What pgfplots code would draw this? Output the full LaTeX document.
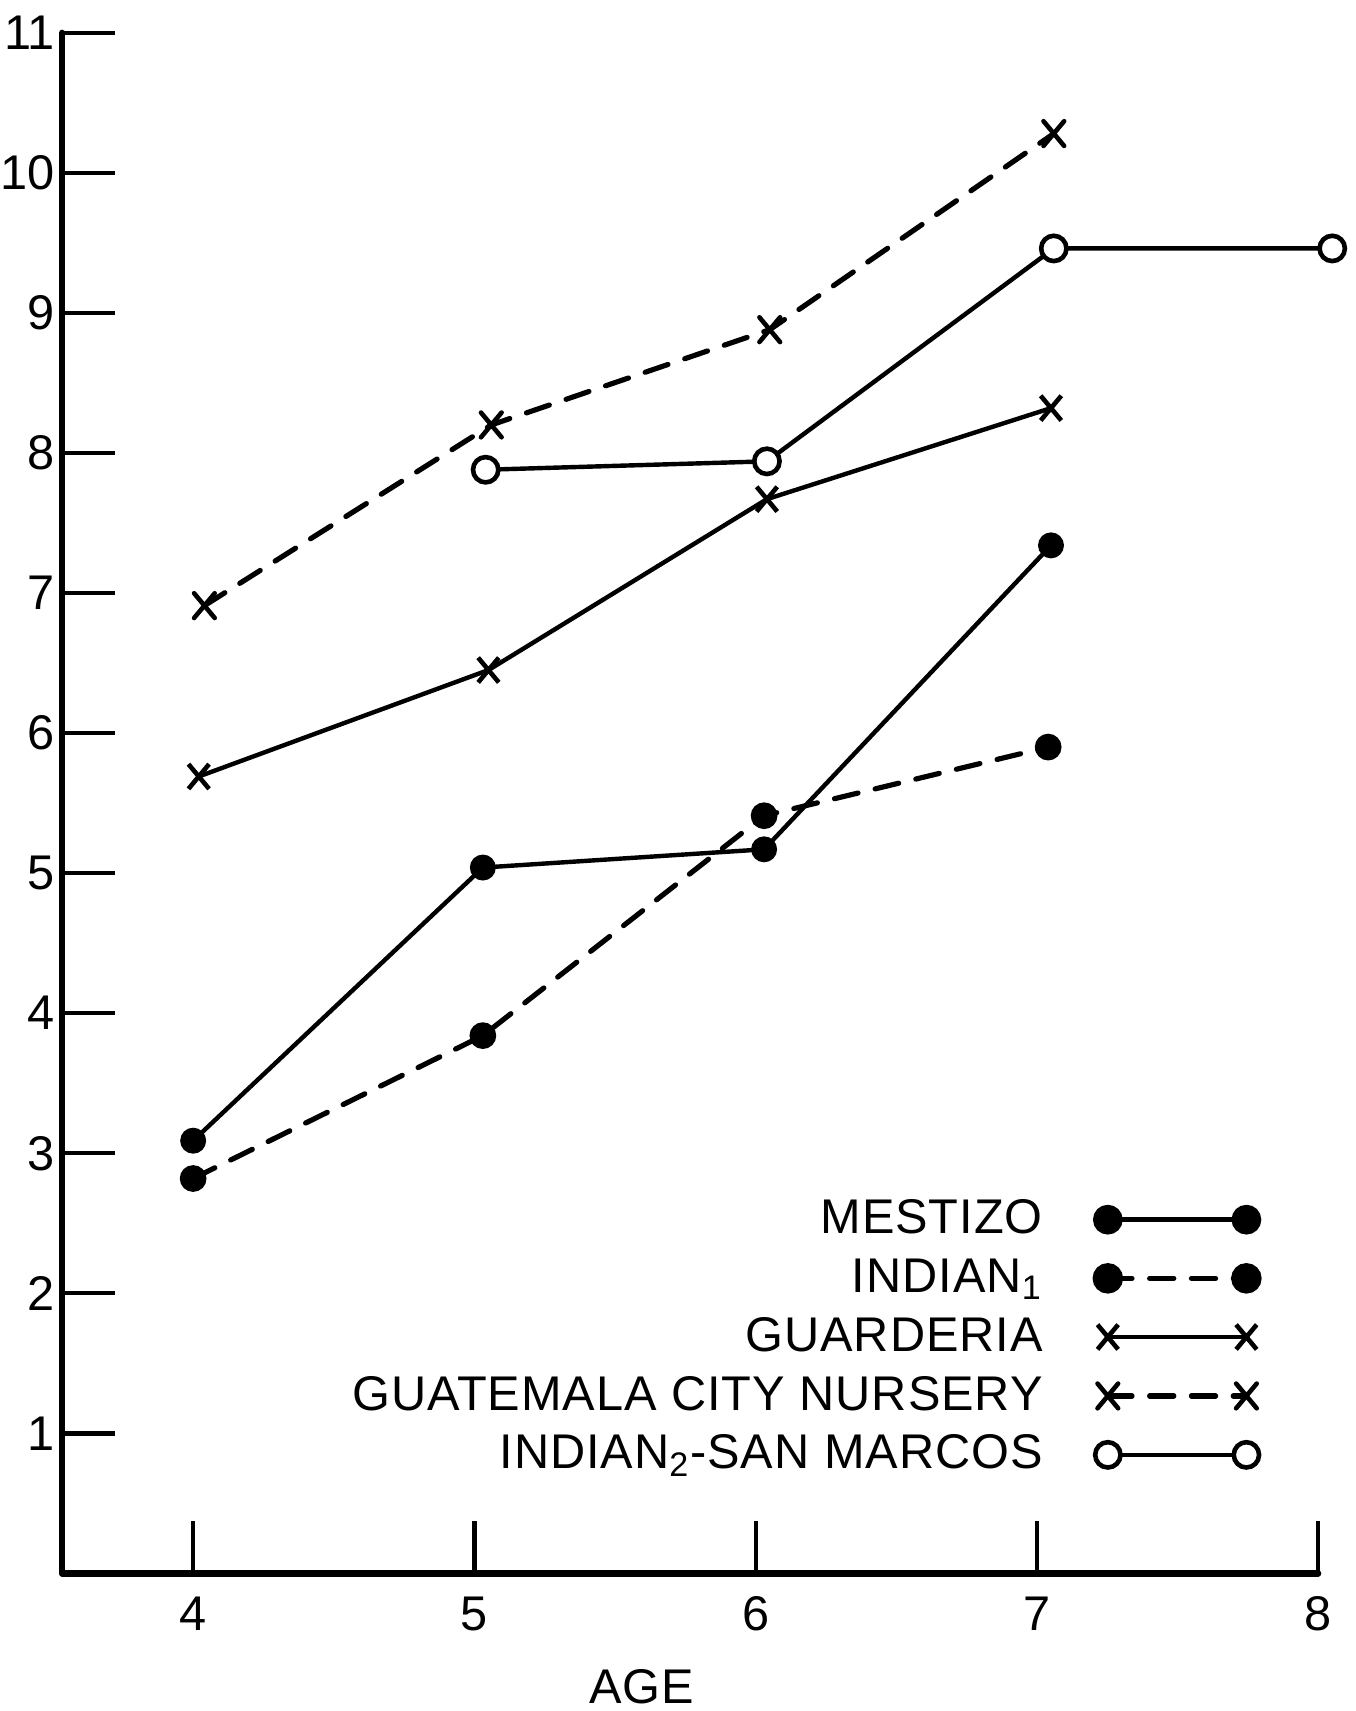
\documentclass[border=0pt]{standalone}
\usepackage{fontspec}
\setmainfont{Liberation Sans}[LetterSpace=2]
\newfontfamily\tickfam{Liberation Sans}
\usepackage{pgfplots}
\pgfplotsset{compat=1.18}
\newcommand{\lf}{\fontsize{12.7pt}{15pt}\selectfont}
\newcommand{\tf}{\tickfam\fontsize{12.7pt}{15pt}\selectfont}
\begin{document}
\begin{tikzpicture}
\begin{axis}[
  name=ax,
  scale only axis,
  width=11.51cm, height=14.12cm,
  at={(0,0)}, anchor=south west,
  xmin=3.5344, xmax=8, ymin=0, ymax=11,
  axis lines=left,
  axis line style={-, line width=1.6pt, line cap=round},
  xtick={4,5,6,7,8}, ytick={1,2,3,4,5,6,7,8,9,10,11},
  tick align=inside,
  major tick length=0.48cm,
  tick style={line width=1.1pt, black},
  ticklabel style={font=\tf},
  xticklabel style={yshift=-0.09cm},
  yticklabel style={inner sep=0.06cm},
  /pgf/number format/assume math mode=true,
  xlabel={AGE},
  xlabel style={font=\lf, inner sep=0pt, at={(axis description cs:0.4613,-0.0735)}, anchor=center},
  clip=false,
  legend cell align=right,
  legend plot pos=right,
  legend style={draw=none, fill=none, font=\lf, at={(axis description cs:0.9627,0.253)}, anchor=north east, row sep=0.035cm, /tikz/every odd column/.append style={column sep=0.41cm}},
  legend image code/.code={\draw[#1] plot coordinates {(0cm,0cm) (1.27cm,0cm)};},
]
\addplot[black, line width=1.15pt, mark=*, mark size=2.8pt, mark options={solid, fill=black}, legend image post style={mark size=3.3pt}]
  coordinates {(4.0,3.09) (5.03,5.04) (6.03,5.17) (7.05,7.34)};
\addlegendentry{MESTIZO}
\addplot[black, line width=1.35pt, dash pattern=on 6.3pt off 4.6pt, line cap=round, mark=*, mark size=2.8pt, mark options={solid, fill=black}, legend image post style={mark size=3.3pt}]
  coordinates {(4.0,2.82) (5.03,3.84) (6.03,5.41) (7.04,5.9)};
\addlegendentry{INDIAN\textsubscript{1}}
\addplot[black, line width=1.15pt, mark=x, mark size=3.8pt, mark options={solid, line width=1.2pt, yscale=1.2}]
  coordinates {(4.02,5.69) (5.05,6.45) (6.04,7.67) (7.05,8.32)};
\addlegendentry{GUARDERIA}
\addplot[black, line width=1.35pt, dash pattern=on 6.3pt off 4.6pt, line cap=round, mark=x, mark size=3.8pt, mark options={solid, line width=1.2pt, yscale=1.2}]
  coordinates {(4.04,6.91) (5.06,8.2) (6.05,8.88) (7.06,10.28)};
\addlegendentry{GUATEMALA CITY NURSERY}
\addplot[black, line width=1.15pt, mark=*, mark size=3.3pt, mark options={solid, fill=white, line width=1.2pt}]
  coordinates {(5.04,7.88) (6.04,7.94) (7.06,9.46) (8.05,9.46)};
\addlegendentry{INDIAN\textsubscript{2}-SAN MARCOS}
\end{axis}
\pgfresetboundingbox
\path ([shift={(-0.57cm,-1.26cm)}]ax.south west) rectangle ([shift={(0.34cm,0.30cm)}]ax.north east);
\end{tikzpicture}
\end{document}
